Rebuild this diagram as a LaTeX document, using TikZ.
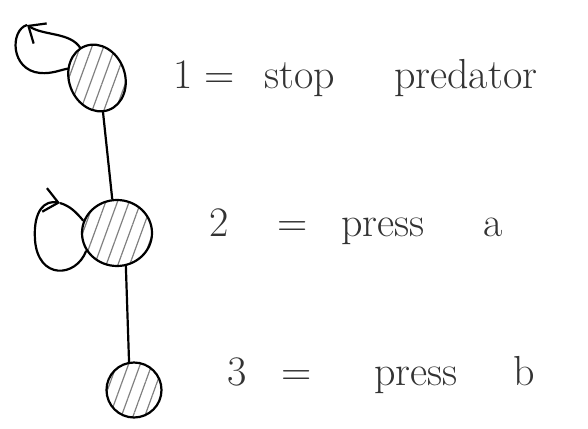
\documentclass[tikz,border=0pt]{standalone}
\usepackage{tikz}
\usetikzlibrary{positioning,shapes.geometric,patterns.meta,arrows.meta}

\begin{document}
\begin{tikzpicture}[x=1pt,y=-1pt,line width=2.2pt,
		state/.style={ellipse,draw,inner sep=0pt,pattern={Lines[angle=70,distance=11pt,line width=1.2pt]},pattern color=gray},
		barb/.style={-{Straight Barb[length=14pt,width=24pt]}},
		lbl/.style={anchor=base west,inner sep=0pt,text=black!80,font=\fontsize{42}{50}\selectfont}]
	\useasboundingbox (0,0) rectangle (588,428);
	
	\node[state,minimum width=56pt,minimum height=68pt,rotate=20] (1) at (97,78) {};
	\node[state,minimum width=70pt,minimum height=66pt] (2) at (117,233) {};
	\node[state,minimum width=55pt,minimum height=55pt] (3) at (134,390) {};
	
	\coordinate (t1) at (27,25);
	\coordinate (t2) at (60,203);
	
	\draw (1.-100) -- (2.98);
	\draw (2.-75) -- (3.100);
	
	\draw[barb] (1.99) .. controls (70,32) and (44,36) .. (t1);
	\draw (t1) .. controls (10,30) and (10,70) .. (40,73) .. controls (52,74) and (60,70) .. (1.142);
	\draw[barb] (2.210) .. controls (76,278) and (38,280) .. (35,240) .. controls (33,210) and (45,200) .. (t2);
	\draw (t2) .. controls (70,206) and (76,212) .. (2.160);
	
	\node[lbl] (l1) at (172,88) {1\hspace{0.3em}=\hspace{0.7em}stop\hspace{1.4em}predator};
	\node[lbl] (l2) at (208,236) {2\hspace{1.17em}=\hspace{0.8em}press\hspace{1.4em}a};
	\node[lbl] (l3) at (226,385) {3\hspace{0.83em}=\hspace{1.5em}press\hspace{1.33em}b};
	
\end{tikzpicture}
\end{document}
